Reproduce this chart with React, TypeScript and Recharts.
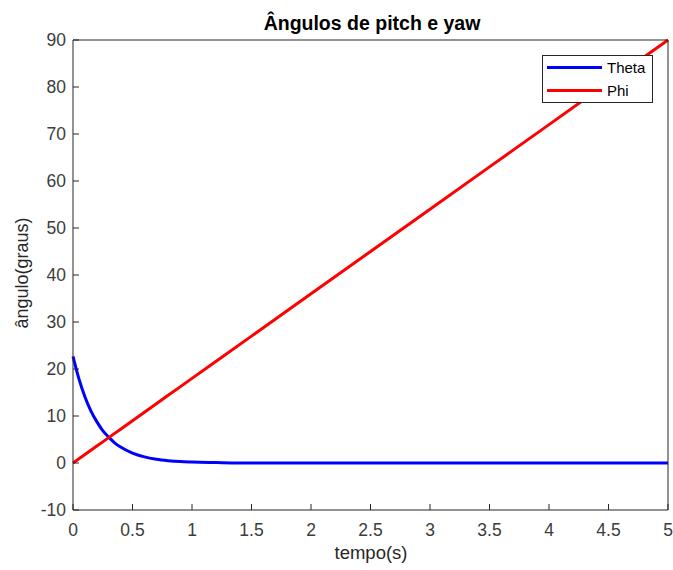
import React from 'react';
import { LineChart, Line, XAxis, YAxis } from 'recharts';

// time samples (s)
const tempo = [0, 0.05, 0.1, 0.15, 0.2, 0.25, 0.3, 0.35, 0.4, 0.5, 0.6, 0.7, 0.8, 0.9, 1.0, 1.2, 1.5, 2, 2.5, 3, 3.5, 4, 4.5, 5];
// pitch angle (degrees)
const theta = [22.7, 17.9, 14.1, 11.1, 8.8, 6.9, 5.5, 4.3, 3.4, 2.1, 1.3, 0.8, 0.5, 0.3, 0.2, 0.1, 0, 0, 0, 0, 0, 0, 0, 0];
// yaw angle (degrees)
const phi = [0, 0.9, 1.8, 2.7, 3.6, 4.5, 5.4, 6.3, 7.2, 9, 10.8, 12.6, 14.4, 16.2, 18, 21.6, 27, 36, 45, 54, 63, 72, 81, 90];

const xTicks = [0, 0.5, 1, 1.5, 2, 2.5, 3, 3.5, 4, 4.5, 5];
const yTicks = [-10, 0, 10, 20, 30, 40, 50, 60, 70, 80, 90];

const thetaData = tempo.map((t, i) => ({ t, v: theta[i] }));
const phiData = tempo.map((t, i) => ({ t, v: phi[i] }));

const FONT = '"Liberation Sans", Arial, sans-serif';
const AXIS = '#262626';
const LABEL = '#3c3c3c';

const legendItems = [
  { name: 'Theta', color: '#0000ff' },
  { name: 'Phi', color: '#ff0000' },
];

function MatlabLegend() {
  return (
    <div
      style={{
        position: 'absolute',
        left: 542,
        top: 55,
        width: 111,
        height: 48,
        border: `1px solid ${AXIS}`,
        background: '#fff',
        boxSizing: 'border-box',
        padding: '0 0 0 4px',
        fontFamily: FONT,
        fontSize: 15,
        color: '#000',
      }}
    >
      {legendItems.map((it) => (
        <div key={it.name} style={{ display: 'flex', alignItems: 'center', height: 23 }}>
          <div style={{ width: 55, height: 3, background: it.color, marginRight: 5 }} />
          <span>{it.name}</span>
        </div>
      ))}
    </div>
  );
}

export default function App() {
  return (
    <div style={{ position: 'absolute', left: 0, top: 0, width: 673, height: 570, background: '#fff', fontFamily: FONT }}>
      <LineChart width={673} height={570} margin={{ top: 39, right: 4, bottom: 0, left: 0 }}>
        <XAxis
          xAxisId="b"
          dataKey="t"
          type="number"
          domain={[0, 5]}
          ticks={xTicks}
          height={60}
          stroke={AXIS}
          tickSize={-6}
          tickMargin={20}
          interval={0}
          tick={{ fill: LABEL, fontSize: 17.5, fontFamily: FONT }}
        />
        <XAxis
          xAxisId="top"
          orientation="top"
          dataKey="t"
          type="number"
          domain={[0, 5]}
          ticks={xTicks}
          height={1}
          stroke={AXIS}
          tickSize={-6}
          interval={0}
          tickFormatter={() => ''}
        />
        <YAxis
          yAxisId="l"
          type="number"
          domain={[-10, 90]}
          ticks={yTicks}
          width={73}
          stroke={AXIS}
          tickSize={-6}
          tickMargin={13}
          interval={0}
          tick={{ fill: LABEL, fontSize: 17.5, fontFamily: FONT }}
        />
        <YAxis
          yAxisId="r"
          orientation="right"
          type="number"
          domain={[-10, 90]}
          ticks={yTicks}
          width={1}
          stroke={AXIS}
          tickSize={-6}
          interval={0}
          tickFormatter={() => ''}
        />
        <Line
          xAxisId="b"
          yAxisId="l"
          data={thetaData}
          dataKey="v"
          name="Theta"
          type="monotone"
          stroke="#0000ff"
          strokeWidth={3}
          dot={false}
          isAnimationActive={false}
        />
        <Line
          xAxisId="b"
          yAxisId="l"
          data={phiData}
          dataKey="v"
          name="Phi"
          type="linear"
          stroke="#ff0000"
          strokeWidth={3}
          dot={false}
          isAnimationActive={false}
        />
        <text x={372} y={30} textAnchor="middle" fontFamily={FONT} fontWeight="bold" fontSize={19.5} fill="#000">
          Ângulos de pitch e yaw
        </text>
        <text x={371} y={559} textAnchor="middle" fontFamily={FONT} fontSize={18.5} fill={AXIS}>
          tempo(s)
        </text>
        <text
          x={28}
          y={273}
          textAnchor="middle"
          fontFamily={FONT}
          fontSize={18}
          fill={AXIS}
          transform="rotate(-90 28 273)"
        >
          ângulo(graus)
        </text>
      </LineChart>
      <MatlabLegend />
    </div>
  );
}
